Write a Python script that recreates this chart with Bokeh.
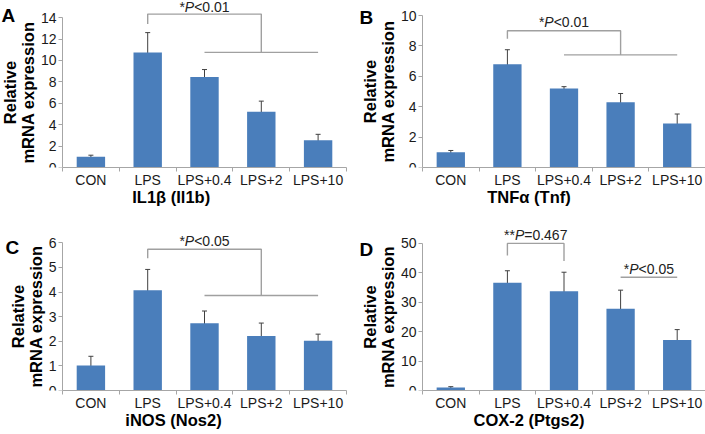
from bokeh.plotting import figure
from bokeh.models import Range1d, FixedTicker, Label, Whisker, ColumnDataSource, TeeHead
from bokeh.layouts import gridplot
from bokeh.embed import file_html
from bokeh.resources import INLINE

categories = ["CON", "LPS", "LPS+0.4", "LPS+2", "LPS+10"]

il1b = [1.0, 10.75, 8.45, 5.2, 2.55]
il1b_err = [0.15, 1.85, 0.7, 1.0, 0.55]
tnf = [1.0, 6.8, 5.2, 4.3, 2.9]
tnf_err = [0.12, 0.95, 0.12, 0.57, 0.62]
nos2 = [1.02, 4.07, 2.73, 2.21, 2.02]
nos2_err = [0.37, 0.85, 0.5, 0.53, 0.27]
ptgs2 = [1.0, 36.6, 33.7, 27.8, 17.2]
ptgs2_err = [0.3, 4.1, 6.5, 6.3, 3.5]

ticks_a = [0, 2, 4, 6, 8, 10, 12, 14]
ticks_b = [0, 2, 4, 6, 8, 10]
ticks_c = [0, 1, 2, 3, 4, 5, 6]
ticks_d = [0, 10, 20, 30, 40, 50]

titles = ["IL1\u03b2  (Il1b)", "TNF\u03b1 (Tnf)", "iNOS (Nos2)", "COX-2 (Ptgs2)"]
ylabel = "Relative\nmRNA expression"

# significance brackets: (xs, ys) polylines
brackets_a = [([2, 2, 4, 4], [13.4, 14.33, 14.33, 10.75]), ([3, 5], [10.75, 10.75])]
brackets_b = [([2, 2, 4, 4], [8.47, 9.0, 9.0, 7.41]), ([3, 5], [7.41, 7.41])]
brackets_c = [([2, 2, 4, 4], [5.37, 5.74, 5.74, 3.86]), ([3, 5], [3.86, 3.86])]
brackets_d = [([2, 2, 3, 3], [45.9, 50.0, 50.0, 44.0]), ([4, 5], [38.5, 38.5])]

notes_a = [(3, 14.95, [("*", False), ("P", True), ("<0.01", False)])]
notes_b = [(3, 9.6, [("*", False), ("P", True), ("<0.01", False)])]
notes_c = [(3, 6.09, [("*", False), ("P", True), ("<0.05", False)])]
notes_d = [(2.5, 53.0, [("**", False), ("P", True), ("=0.467", False)]),
           (4.5, 41.4, [("*", False), ("P", True), ("<0.05", False)])]

FONT = "Liberation Sans"
BAR = "#4A7EBB"
AX = "#a6a6a6"

ARIAL_W = {"*": 389, "P": 667, "<": 584, "=": 584, ".": 278}


def text_width(t, size):
    return sum(ARIAL_W.get(ch, 556) for ch in t) * size / 1000.0


def make_panel(letter, letter_pos, vals, errs, ticks, title, brackets, notes,
               width, height, axis_x, right, bottom, yend):
    n = len(categories)
    frame_w = width - right
    unit = (frame_w - axis_x) / n
    x_left = 0.5 - axis_x / unit
    p = figure(width=width, height=height, output_backend="svg", toolbar_location=None,
               x_range=Range1d(x_left, n + 0.5), y_range=Range1d(0, yend),
               min_border_left=0, min_border_right=right, min_border_top=0,
               min_border_bottom=bottom, outline_line_color=None,
               background_fill_color="white", border_fill_color="white")
    p.xgrid.visible = False
    p.ygrid.visible = False
    xs = [i + 1 for i in range(n)]
    src = ColumnDataSource(dict(x=xs, top=vals,
                                upper=[v + e for v, e in zip(vals, errs)],
                                lower=[v - e for v, e in zip(vals, errs)]))
    p.vbar(x="x", top="top", bottom=0, width=0.5, source=src, fill_color=BAR, line_color=None)
    w = Whisker(base="x", upper="upper", lower="lower", source=src,
                line_color="#404040", line_width=1,
                upper_head=TeeHead(size=5, line_color="#404040", line_width=1),
                lower_head=TeeHead(size=5, line_color="#404040", line_width=1))
    p.add_layout(w)
    for bx, by in brackets:
        p.line(bx, by, line_color="#a0a0a0", line_width=1.4)
    for xc, yc, pieces in notes:
        size = 14
        total = sum(text_width(t, size) for t, _ in pieces)
        off = -total / 2.0
        for t, it in pieces:
            p.add_layout(Label(x=xc, y=yc, x_offset=off, text=t, text_align="left",
                               text_baseline="middle", text_font=FONT,
                               text_font_size=f"{size}px", text_color="#222222",
                               text_font_style="italic" if it else "normal"))
            off += text_width(t, size)

    frame_h = height - bottom

    def ydata(fig_y):
        return yend * (1 - fig_y / frame_h)

    lx, ly = letter_pos
    p.add_layout(Label(x=lx, y=ydata(ly), x_units="screen", text=letter,
                       text_align="left", text_baseline="top", text_font=FONT,
                       text_font_size="19px", text_font_style="bold", text_color="#000000"))

    xa = p.xaxis[0]
    xa.ticker = FixedTicker(ticks=xs, minor_ticks=[x - 0.5 for x in xs] + [xs[-1] + 0.5])
    xa.bounds = (0.5, n + 0.5)
    xa.major_label_overrides = {x: c for x, c in zip(xs, categories)}
    xa.major_tick_out = 0
    xa.major_tick_in = 0
    xa.minor_tick_out = 4
    xa.minor_tick_in = 0
    xa.minor_tick_line_color = AX
    xa.axis_line_color = AX
    xa.major_label_text_font = FONT
    xa.major_label_text_font_size = "14px"
    xa.major_label_text_color = "#1a1a1a"
    xa.major_label_standoff = 0
    xa.axis_label = title
    xa.axis_label_text_font = FONT
    xa.axis_label_text_font_size = "16.5px"
    xa.axis_label_text_font_style = "bold"
    xa.axis_label_text_color = "#000000"
    xa.axis_label_standoff = -3

    ya = p.yaxis[0]
    ya.fixed_location = 0.5
    ya.ticker = FixedTicker(ticks=ticks, minor_ticks=[])
    ya.bounds = (ticks[0], ticks[-1])
    ya.major_tick_out = 4
    ya.major_tick_in = 0
    ya.major_tick_line_color = AX
    ya.minor_tick_out = 0
    ya.minor_tick_in = 0
    ya.axis_line_color = AX
    ya.major_label_text_font = FONT
    ya.major_label_text_font_size = "14px"
    ya.major_label_text_color = "#1a1a1a"
    ya.major_label_standoff = 2
    ya.axis_label = ylabel
    ya.axis_label_text_font = FONT
    ya.axis_label_text_font_size = "16.5px"
    ya.axis_label_text_font_style = "bold"
    ya.axis_label_text_color = "#000000"
    ya.axis_label_text_line_height = 1.0
    ya.axis_label_standoff = 1
    return p


pa = make_panel("A", (1, 4.4), il1b, il1b_err, ticks_a, titles[0], brackets_a, notes_a,
                352, 217, 62, 6, 50, 15.6)
pb = make_panel("B", (7, 6.4), tnf, tnf_err, ticks_b, titles[1], brackets_b, notes_b,
                353, 217, 70, 0, 50, 10.99)
pc = make_panel("C", (5, 19.4), nos2, nos2_err, ticks_c, titles[2], brackets_c, notes_c,
                352, 217, 62, 6, 44, 7.03)
pd = make_panel("D", (7, 21.4), ptgs2, ptgs2_err, ticks_d, titles[3], brackets_d, notes_d,
                353, 217, 70, 0, 44, 58.8)

grid = gridplot([[pa, pb], [pc, pd]], toolbar_location=None)

open("out.html", "w").write(file_html(grid, INLINE))
